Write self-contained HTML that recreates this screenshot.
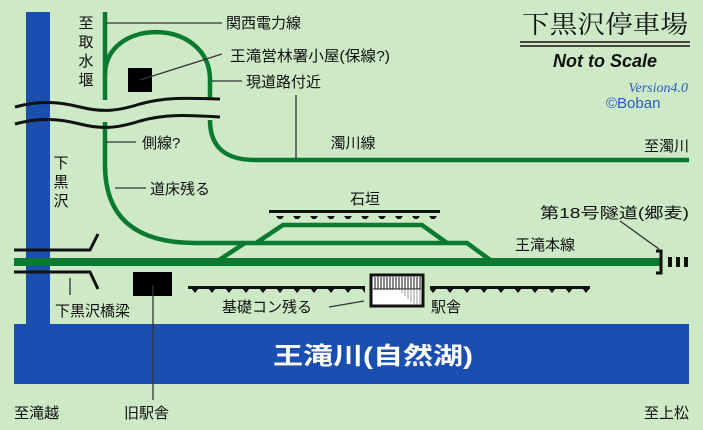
<!DOCTYPE html>
<html><head><meta charset="utf-8"><style>
html,body{margin:0;padding:0;background:#cde9c6;}
svg{display:block;}
text{font-family:"Liberation Sans","Noto Sans CJK JP",sans-serif;fill:#111;}
</style></head><body>
<svg width="703" height="430" viewBox="0 0 703 430" xmlns="http://www.w3.org/2000/svg">
<defs>
<pattern id="tk" x="0" y="0" width="17" height="8" patternUnits="userSpaceOnUse">
<polygon points="4,0 12,0 8,5" fill="#111"/>
</pattern>
</defs>
<rect width="703" height="430" fill="#cde9c6"/>
<rect x="26" y="12" width="24" height="320" fill="#1a4fb0"/>
<rect x="14" y="324" width="675" height="60" fill="#1a4fb0"/>
<text x="273" y="364" font-size="24" font-weight="bold" textLength="200" lengthAdjust="spacingAndGlyphs" style="fill:#fff">王滝川(自然湖)</text>

<g fill="none" stroke="#0a7a30" stroke-width="4.5">
<line x1="105" y1="12" x2="105" y2="100"/>
<path d="M105,75 C105,17 210,17 210,80 L210,98"/>
<path d="M210,120 Q210,160 255,160 L689,160"/>
<path d="M105,122 L105,165 Q105,243 195,243 L467,243 L493,262"/>
<path d="M216,262 L245,243"/>
<path d="M256,243 L283,225 L422,225 L447,243"/>
</g>
<rect x="14" y="258" width="646" height="8" fill="#0a7a30"/>

<g fill="none" stroke="#111" stroke-width="3">
<path d="M15,107 C40,100 60,102 80,107 C100,112 115,112 140,104 C165,97 185,98 220,99"/>
<path d="M15,124 C40,117 60,119 80,124 C100,129 115,129 140,121 C165,114 185,115 220,117"/>
</g>

<rect x="128" y="68" width="24" height="24" fill="#000"/>

<rect x="269" y="210" width="171" height="3" fill="#111"/>
<rect x="269" y="213" width="171" height="6" fill="url(#tk)"/>
<rect x="188" y="286" width="177" height="3" fill="#111"/>
<rect x="188" y="289" width="177" height="6" fill="url(#tk)"/>
<rect x="430" y="286" width="160" height="3" fill="#111"/>
<rect x="430" y="289" width="160" height="6" fill="url(#tk)"/>

<rect x="371" y="275" width="52" height="31" fill="#fff" stroke="#111" stroke-width="3"/>
<g stroke="#111" stroke-width="1">
<line x1="375" y1="277" x2="375" y2="289"/><line x1="378" y1="277" x2="378" y2="289"/><line x1="381" y1="277" x2="381" y2="289"/><line x1="384" y1="277" x2="384" y2="289"/><line x1="387" y1="277" x2="387" y2="289"/><line x1="390" y1="277" x2="390" y2="289"/><line x1="393" y1="277" x2="393" y2="289"/><line x1="396" y1="277" x2="396" y2="289"/><line x1="399" y1="277" x2="399" y2="289"/><line x1="402" y1="277" x2="402" y2="289"/><line x1="405" y1="277" x2="405" y2="289"/><line x1="408" y1="277" x2="408" y2="289"/><line x1="411" y1="277" x2="411" y2="289"/><line x1="414" y1="277" x2="414" y2="289"/><line x1="417" y1="277" x2="417" y2="289"/><line x1="420" y1="277" x2="420" y2="289"/>
<line x1="373" y1="289" x2="421" y2="289"/>
</g>
<g stroke="#999" stroke-width="1">
<line x1="402" y1="290" x2="402" y2="293"/><line x1="405" y1="290" x2="405" y2="296"/><line x1="408" y1="290" x2="408" y2="299"/><line x1="411" y1="290" x2="411" y2="302"/><line x1="414" y1="290" x2="414" y2="304"/><line x1="417" y1="290" x2="417" y2="304"/><line x1="420" y1="290" x2="420" y2="304"/>
</g>

<path d="M656,251 L661,251 L661,273 L656,273" fill="none" stroke="#111" stroke-width="3"/>
<rect x="668" y="257" width="4" height="10" fill="#111"/>
<rect x="676" y="257" width="4" height="10" fill="#111"/>
<rect x="684" y="257" width="4" height="10" fill="#111"/>

<g fill="none" stroke="#111" stroke-width="3">
<path d="M14,250 L90,250 L98,234"/>
<path d="M14,272 L90,272 L98,289"/>
</g>

<rect x="133" y="272" width="39" height="24" fill="#000"/>

<g stroke="#333" stroke-width="1.3" fill="none">
<line x1="106" y1="23" x2="222" y2="23"/>
<line x1="140" y1="80" x2="222" y2="54"/>
<line x1="212" y1="81" x2="242" y2="81"/>
<line x1="296" y1="95" x2="296" y2="159"/>
<line x1="106" y1="142" x2="136" y2="142"/>
<line x1="115" y1="188" x2="146" y2="188"/>
<line x1="70" y1="278" x2="70" y2="295"/>
<line x1="153" y1="285" x2="153" y2="400"/>
<line x1="329" y1="307" x2="364" y2="301"/>
<line x1="620" y1="221" x2="659" y2="249"/>
</g>

<g font-size="15">
<text x="226" y="28">関西電力線</text>
<text x="230" y="61" textLength="160" lengthAdjust="spacingAndGlyphs">王滝営林署小屋(保線?)</text>
<text x="246" y="87">現道路付近</text>
<text x="142" y="148">側線?</text>
<text x="150" y="194">道床残る</text>
<text x="353" y="148" text-anchor="middle">濁川線</text>
<text x="689" y="151" text-anchor="end">至濁川</text>
<text x="365" y="204" text-anchor="middle">石垣</text>
<text x="540" y="218" textLength="149" lengthAdjust="spacingAndGlyphs">第18号隧道(郷麦)</text>
<text x="515" y="250">王滝本線</text>
<text x="222" y="312">基礎コン残る</text>
<text x="431" y="312">駅舎</text>
<text x="55" y="316">下黒沢橋梁</text>
<text x="14" y="418">至滝越</text>
<text x="124" y="418">旧駅舎</text>
<text x="689" y="418" text-anchor="end">至上松</text>
</g>
<g font-size="15" text-anchor="middle">
<text x="86" y="28">至</text><text x="86" y="47">取</text><text x="86" y="66">水</text><text x="86" y="85">堰</text>
<text x="61" y="168">下</text><text x="61" y="187">黒</text><text x="61" y="206">沢</text>
</g>

<text x="522" y="33" font-size="25" textLength="166" lengthAdjust="spacingAndGlyphs" style="font-family:'Noto Serif CJK SC','Liberation Serif',serif">下黒沢停車場</text>
<line x1="520" y1="42" x2="690" y2="42" stroke="#111" stroke-width="1.5"/>
<line x1="520" y1="46" x2="690" y2="46" stroke="#111" stroke-width="1.5"/>
<text x="605" y="67" text-anchor="middle" font-size="18" font-weight="bold" font-style="italic">Not to Scale</text>
<text x="688" y="92" text-anchor="end" font-size="14" font-style="italic" style="font-family:'Liberation Serif',serif;fill:#2a5cc0">Version4.0</text>
<text x="606" y="108" font-size="15" style="fill:#2a5cc0">©Boban</text>
</svg>
</body></html>
